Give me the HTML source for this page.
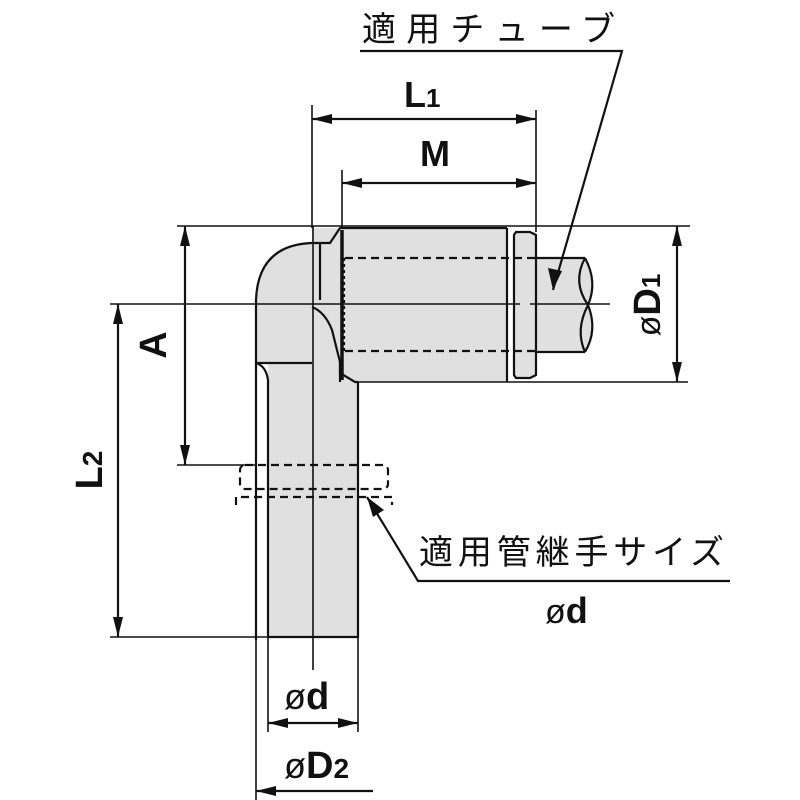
<!DOCTYPE html>
<html><head><meta charset="utf-8"><style>html,body{margin:0;padding:0;background:#fff}svg{display:block}</style></head>
<body>
<svg width="800" height="800" viewBox="0 0 800 800" xmlns="http://www.w3.org/2000/svg">
<defs>
<marker id="ar" viewBox="0 0 20 10" refX="20" refY="5" markerWidth="20" markerHeight="10" markerUnits="userSpaceOnUse" orient="auto-start-reverse"><path d="M0,0 L20,5 L0,10 z" fill="#111"/></marker>
</defs>
<g fill="#e0e0e0" stroke="none">
<path d="M256,300 Q258,245 312,243 L312,363 L256,363 Z"/>
<rect x="268" y="363" width="90" height="274"/>
<rect x="312" y="228" width="30" height="150"/>
<rect x="342" y="228" width="165" height="154"/>
<rect x="514" y="232" width="22" height="146"/>
<path d="M536,258 L585,258 Q598,282 588,305 Q598,330 585,352 L536,352 Z"/>
</g>
<g fill="none" stroke="#111" stroke-width="2.2">
<path d="M256,640 L256,300 Q258,245 312,243"/>
<line x1="256" y1="363" x2="312" y2="363"/>
<path d="M256,363 Q266,366 268,380 L268,637"/>
<path d="M268,637 L358,637 L358,382"/>
<path d="M312,243 L330,243 L340,228 L342,228"/>
<path d="M312,307 Q325,312 332,330 L340,362 L340,382"/>
<path d="M320,243 L320,300"/>
<path d="M340,362 L340,373 L355,382 L358,382"/>
<line x1="342" y1="228" x2="507" y2="228"/>
<line x1="507" y1="228" x2="507" y2="382"/>
<path d="M516,232 L530,232 L536,235 L536,375 L530,378 L516,378 L514,375 L514,235 Z"/>
<path d="M536,258 L585,258 M536,352 L585,352"/>
<path d="M585,258 Q598,282 588,305 Q598,330 585,352"/>
<path d="M585,258 Q572,282 588,305 Q575,330 585,352"/>
<line x1="342" y1="230" x2="342" y2="380" stroke-width="3.5"/>
<g stroke-dasharray="8,5">
<line x1="345" y1="258" x2="536" y2="258"/>
<line x1="345" y1="351" x2="536" y2="351"/>
<line x1="344" y1="258" x2="344" y2="351" stroke-dasharray="3,3"/>
<rect x="240" y="465" width="148" height="24" rx="5"/>
<path d="M236,505 L236,497 L392,497 L392,505"/>
</g>
<line x1="110" y1="304" x2="520" y2="304" stroke-width="1.6"/>
<line x1="530" y1="304" x2="610" y2="304" stroke-width="1.6"/>
<line x1="313" y1="226" x2="313" y2="670" stroke-width="1.6"/>
<line x1="177" y1="226" x2="690" y2="226" stroke-width="1.6"/>
<line x1="358" y1="382" x2="688" y2="382" stroke-width="1.6"/>
<line x1="177" y1="465" x2="256" y2="465" stroke-width="1.6"/>
<line x1="110" y1="637" x2="268" y2="637" stroke-width="1.6"/>
<line x1="312" y1="105" x2="312" y2="228" stroke-width="1.6"/>
<line x1="342" y1="170" x2="342" y2="228" stroke-width="1.6"/>
<line x1="536" y1="110" x2="536" y2="232" stroke-width="1.6"/>
<line x1="268" y1="637" x2="268" y2="732" stroke-width="1.6"/>
<line x1="358" y1="637" x2="358" y2="732" stroke-width="1.6"/>
<line x1="256" y1="637" x2="256" y2="800" stroke-width="1.6"/>
<line x1="312" y1="119" x2="536" y2="119" marker-start="url(#ar)" marker-end="url(#ar)"/>
<line x1="342" y1="183" x2="536" y2="183" marker-start="url(#ar)" marker-end="url(#ar)"/>
<line x1="185" y1="226" x2="185" y2="465" marker-start="url(#ar)" marker-end="url(#ar)"/>
<line x1="118" y1="304" x2="118" y2="637" marker-start="url(#ar)" marker-end="url(#ar)"/>
<line x1="677" y1="226" x2="677" y2="382" marker-start="url(#ar)" marker-end="url(#ar)"/>
<line x1="268" y1="723" x2="358" y2="723" marker-start="url(#ar)" marker-end="url(#ar)"/>
<line x1="373" y1="791" x2="256" y2="791" marker-end="url(#ar)"/>
<path d="M360,51 L622,51 L553,290" />
<path d="M730,581 L418,581 L367,497"/>
</g>
<path d="M553,290 L548,268 L562,271 Z" fill="#111"/>
<path d="M367,497 L384,510 L373,517 Z" fill="#111"/>
<g font-family="Liberation Sans, Noto Sans CJK JP, sans-serif" fill="#111">
<text x="362" y="41" font-size="34" textLength="253" lengthAdjust="spacing">適用チューブ</text>
<text x="419" y="564" font-size="34" textLength="305" lengthAdjust="spacing">適用管継手サイズ</text>
<text x="404" y="107" font-size="36" font-weight="bold">L<tspan font-size="26">1</tspan></text>
<text x="420" y="166" font-size="36" font-weight="bold">M</text>
<text x="545" y="623" font-size="36" font-weight="bold"><tspan font-weight="normal" font-size="34">ø</tspan>d</text>
<text x="284" y="709" font-size="38" font-weight="bold"><tspan font-weight="normal" font-size="36">ø</tspan>d</text>
<text x="284" y="778" font-size="38" font-weight="bold"><tspan font-weight="normal" font-size="36">ø</tspan>D<tspan font-size="28">2</tspan></text>
<text transform="translate(166,345) rotate(-90)" text-anchor="middle" font-size="38" font-weight="bold">A</text>
<text transform="translate(102,470) rotate(-90)" text-anchor="middle" font-size="38" font-weight="bold">L<tspan font-size="28">2</tspan></text>
<text transform="translate(660,305) rotate(-90)" text-anchor="middle" font-size="38" font-weight="bold"><tspan font-weight="normal" font-size="34">ø</tspan>D<tspan font-size="26">1</tspan></text>
</g>
</svg>
</body></html>
